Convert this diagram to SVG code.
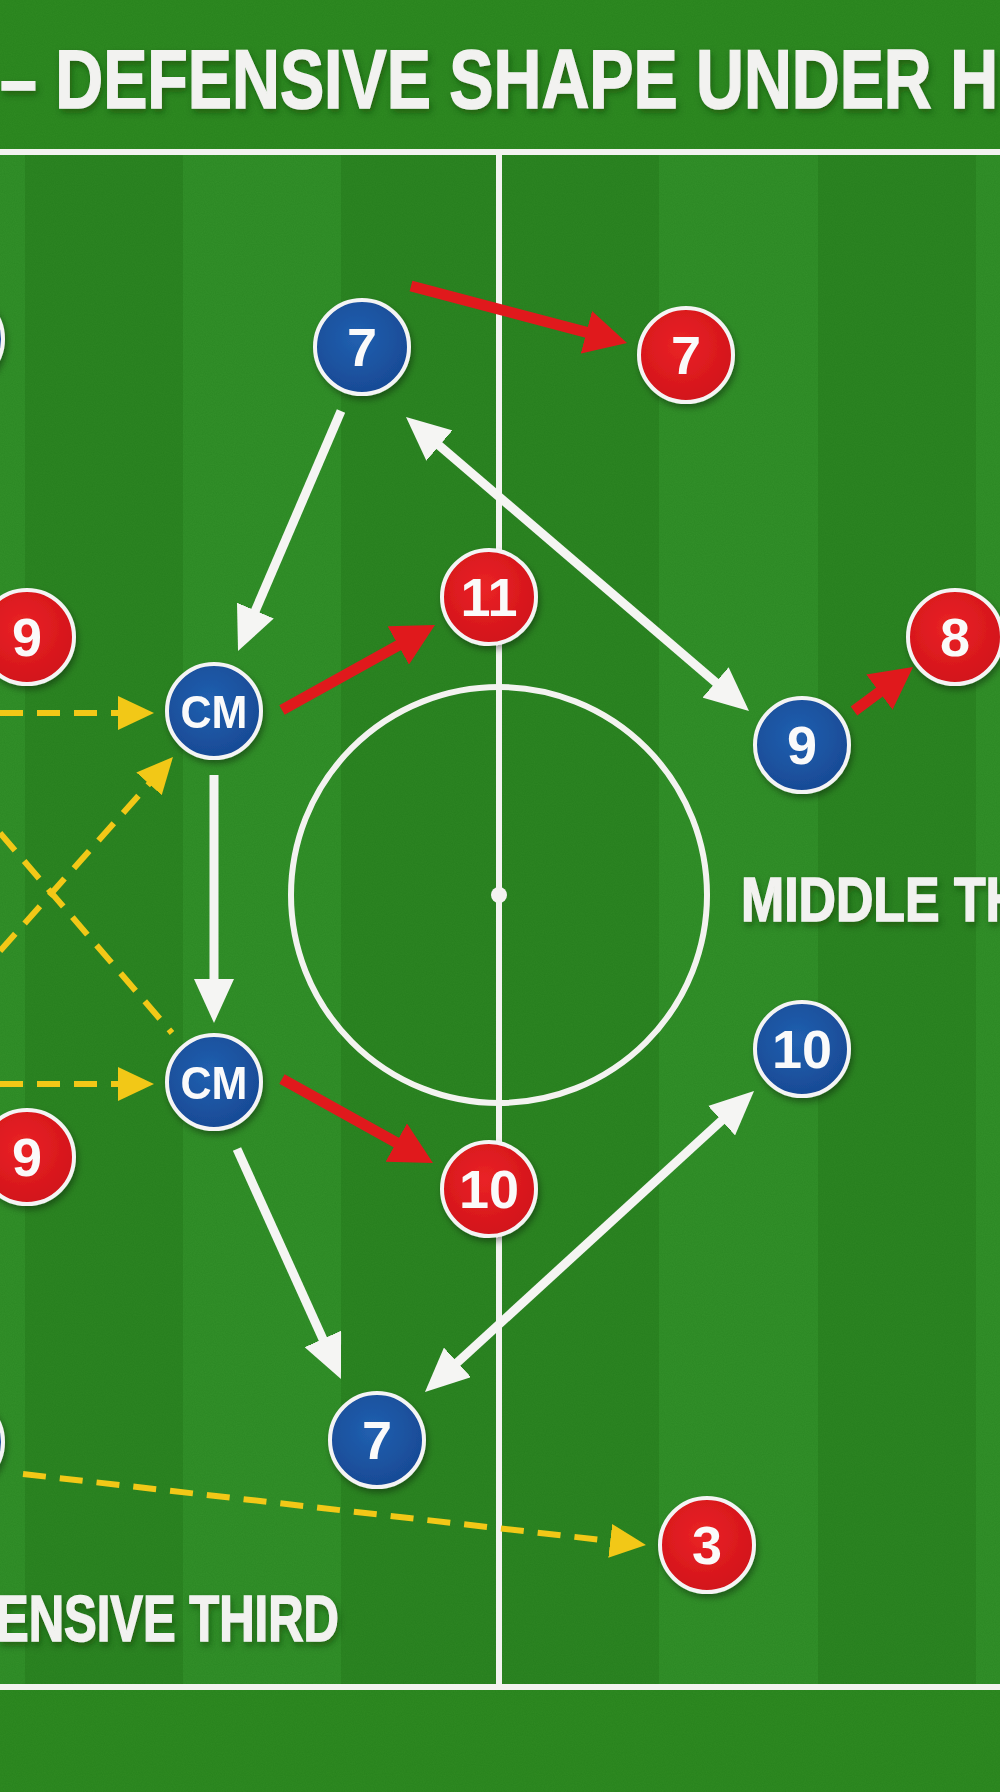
<svg xmlns="http://www.w3.org/2000/svg" width="1000" height="1792" viewBox="0 0 1000 1792">
<defs>
<style>
.ln{stroke:#f3f3f0;stroke-width:6;fill:none}
.wa{stroke:#f5f5f3;stroke-width:9;fill:none;stroke-linecap:butt}
.ra{stroke:#e0191c;stroke-width:11;fill:none}
.ya{stroke:#f2c817;stroke-width:6;fill:none;stroke-dasharray:23 14}
.blue{fill:url(#gb);stroke:#f4f4f4;stroke-width:4}
.red{fill:url(#gr);stroke:#f4f4f4;stroke-width:4}
.num{font-family:"Liberation Sans",Arial,sans-serif;font-weight:bold;font-size:54px;fill:#fafafa;text-anchor:middle}
.cm{font-family:"Liberation Sans",Arial,sans-serif;font-weight:bold;font-size:47px;fill:#fafafa;text-anchor:middle}
.big{font-family:"Liberation Sans",Arial,sans-serif;font-weight:bold;fill:#f2f2f0;stroke:#f2f2f0;stroke-width:1.5}
</style>
<radialGradient id="gb" cx="0.45" cy="0.4" r="0.6"><stop offset="0" stop-color="#2160b0"/><stop offset="1" stop-color="#184a95"/></radialGradient>
<radialGradient id="gr" cx="0.45" cy="0.4" r="0.6"><stop offset="0" stop-color="#ea2326"/><stop offset="1" stop-color="#d2141a"/></radialGradient>
<filter id="sh" x="-30%" y="-30%" width="160%" height="160%"><feDropShadow dx="2" dy="4" stdDeviation="3" flood-color="#000" flood-opacity="0.35"/></filter>
<filter id="tsh" x="-5%" y="-20%" width="110%" height="150%"><feDropShadow dx="2" dy="4" stdDeviation="3" flood-color="#0a3a05" flood-opacity="0.5"/></filter>
<filter id="noise" x="0" y="0" width="100%" height="100%"><feTurbulence type="fractalNoise" baseFrequency="0.9" numOctaves="2" seed="3"/><feColorMatrix values="0 0 0 0 0  0 0 0 0 0.1  0 0 0 0 0  0 0 0 0.16 0"/></filter>
<marker id="mw" viewBox="0 0 44 40" refX="22" refY="20" markerWidth="44" markerHeight="40" markerUnits="userSpaceOnUse" orient="auto-start-reverse"><path d="M0,0 L44,20 L0,40 z" fill="#f5f5f3"/></marker>
<marker id="mr" viewBox="0 0 42 44" refX="21" refY="22" markerWidth="42" markerHeight="44" markerUnits="userSpaceOnUse" orient="auto"><path d="M0,0 L42,22 L0,44 z" fill="#e0191c"/></marker>
<marker id="my" viewBox="0 0 36 34" refX="18" refY="17" markerWidth="36" markerHeight="34" markerUnits="userSpaceOnUse" orient="auto"><path d="M0,0 L36,17 L0,34 z" fill="#f2c817"/></marker>
</defs>

<g id="pitch">
<rect x="0" y="0" width="1000" height="1792" fill="#2f8a22"/>
<rect x="0" y="152" width="1000" height="1535" fill="#33902a"/>
<rect x="25" y="152" width="158" height="1535" fill="#2d8523"/>
<rect x="341" y="152" width="318" height="1535" fill="#2d8523"/>
<rect x="818" y="152" width="158" height="1535" fill="#2d8523"/>
<rect x="0" y="0" width="1000" height="1792" filter="url(#noise)"/>
<line class="ln" x1="0" y1="152" x2="1000" y2="152"/>
<line class="ln" x1="0" y1="1687" x2="1000" y2="1687"/>
<line class="ln" x1="499" y1="152" x2="499" y2="1687"/>
<circle class="ln" cx="499" cy="895" r="208"/>
<circle cx="499" cy="895" r="8" fill="#f3f3f0"/>
</g>

<g id="labels" filter="url(#tsh)">
<text class="big" x="0" y="108" font-size="84" textLength="998" lengthAdjust="spacingAndGlyphs">– DEFENSIVE SHAPE UNDER H</text>
<text class="big" x="741" y="921" font-size="63" textLength="282" lengthAdjust="spacingAndGlyphs">MIDDLE TH</text>
<text class="big" x="-4" y="1641" font-size="65" textLength="343" lengthAdjust="spacingAndGlyphs">ENSIVE THIRD</text>
</g>

<g id="connectors">
<line class="ya" x1="0" y1="713" x2="136" y2="713" marker-end="url(#my)"/>
<line class="ya" x1="0" y1="1084" x2="136" y2="1084" marker-end="url(#my)"/>
<line class="ya" x1="0" y1="951" x2="161" y2="770.4" marker-end="url(#my)"/>
<line class="ya" x1="0" y1="833" x2="172" y2="1033"/>
<line class="ya" x1="23" y1="1474" x2="628.1" y2="1543" marker-end="url(#my)"/>
<line class="wa" x1="341" y1="411" x2="246.7" y2="630.8" marker-end="url(#mw)"/>
<line class="wa" x1="422.7" y1="431.3" x2="732.3" y2="696.7" marker-start="url(#mw)" marker-end="url(#mw)"/>
<line class="wa" x1="214" y1="775" x2="214" y2="1001" marker-end="url(#mw)"/>
<line class="wa" x1="237" y1="1149" x2="331.9" y2="1359" marker-end="url(#mw)"/>
<line class="wa" x1="441.2" y1="1377.2" x2="737.8" y2="1105.8" marker-start="url(#mw)" marker-end="url(#mw)"/>
<line class="ra" x1="411" y1="286" x2="606.7" y2="337.6" marker-end="url(#mr)"/>
<line class="ra" x1="282" y1="710" x2="416.6" y2="635.2" marker-end="url(#mr)"/>
<line class="ra" x1="854" y1="711" x2="896.2" y2="679.6" marker-end="url(#mr)"/>
<line class="ra" x1="282" y1="1079" x2="414.6" y2="1152.8" marker-end="url(#mr)"/>
</g>

<g id="n-blue-left-top" filter="url(#sh)"><circle class="blue" cx="-44" cy="339" r="47"/></g>
<g id="n-blue-7-top" filter="url(#sh)"><circle class="blue" cx="362" cy="347" r="47"/><text class="num" x="362" y="366">7</text></g>
<g id="n-blue-cm-top" filter="url(#sh)"><circle class="blue" cx="214" cy="711" r="47"/><text class="cm" x="214" y="728" textLength="67" lengthAdjust="spacingAndGlyphs">CM</text></g>
<g id="n-blue-cm-bottom" filter="url(#sh)"><circle class="blue" cx="214" cy="1082" r="47"/><text class="cm" x="214" y="1099" textLength="67" lengthAdjust="spacingAndGlyphs">CM</text></g>
<g id="n-blue-9" filter="url(#sh)"><circle class="blue" cx="802" cy="745" r="47"/><text class="num" x="802" y="764">9</text></g>
<g id="n-blue-10" filter="url(#sh)"><circle class="blue" cx="802" cy="1049" r="47"/><text class="num" x="802" y="1068">10</text></g>
<g id="n-blue-7-bottom" filter="url(#sh)"><circle class="blue" cx="377" cy="1440" r="47"/><text class="num" x="377" y="1459">7</text></g>
<g id="n-blue-left-bottom" filter="url(#sh)"><circle class="blue" cx="-44" cy="1442" r="47"/></g>

<g id="n-red-7" filter="url(#sh)"><circle class="red" cx="686" cy="355" r="47"/><text class="num" x="686" y="374">7</text></g>
<g id="n-red-11" filter="url(#sh)"><circle class="red" cx="489" cy="597" r="47"/><text class="num" x="489" y="616">11</text></g>
<g id="n-red-8" filter="url(#sh)"><circle class="red" cx="955" cy="637" r="47"/><text class="num" x="955" y="656">8</text></g>
<g id="n-red-9-top" filter="url(#sh)"><circle class="red" cx="27" cy="637" r="47"/><text class="num" x="27" y="656">9</text></g>
<g id="n-red-9-bottom" filter="url(#sh)"><circle class="red" cx="27" cy="1157" r="47"/><text class="num" x="27" y="1176">9</text></g>
<g id="n-red-10" filter="url(#sh)"><circle class="red" cx="489" cy="1189" r="47"/><text class="num" x="489" y="1208">10</text></g>
<g id="n-red-3" filter="url(#sh)"><circle class="red" cx="707" cy="1545" r="47"/><text class="num" x="707" y="1564">3</text></g>
</svg>
